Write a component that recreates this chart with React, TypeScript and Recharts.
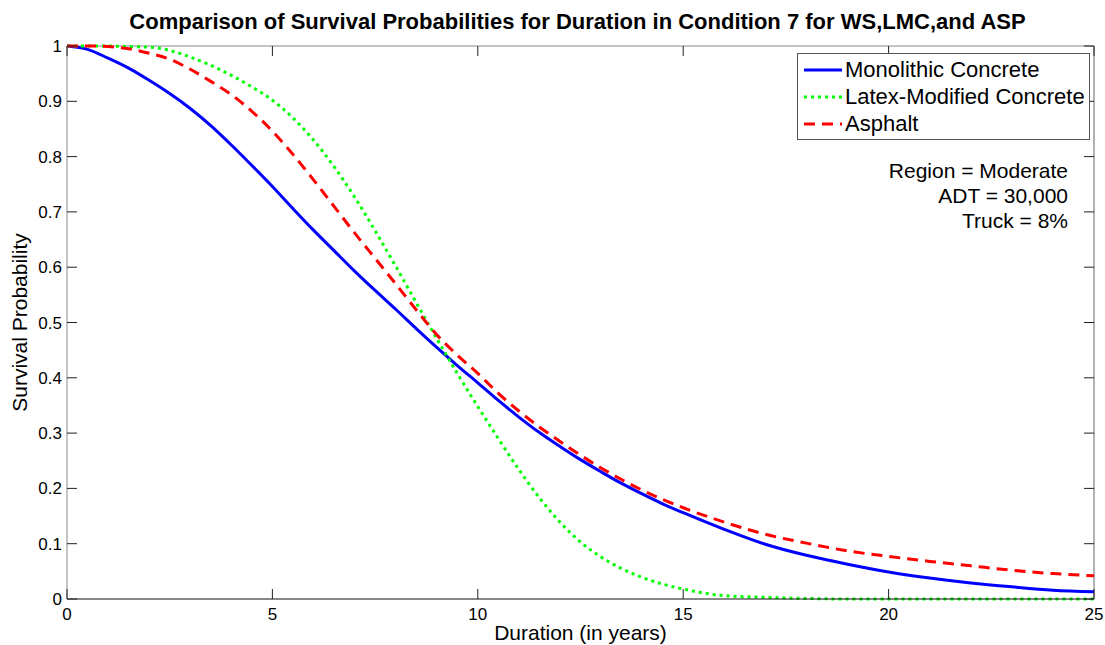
import { LineChart, Line, XAxis, YAxis, ReferenceLine } from 'recharts'

// Duration in years (half-year steps up to 15, yearly after)
const years = [
    0, 0.5, 1, 1.5, 2, 2.5, 3, 3.5, 4, 4.5, 5, 5.5, 6, 6.5, 7, 7.5, 8, 8.5, 9, 9.5,
    10, 10.5, 11, 11.5, 12, 12.5, 13, 13.5, 14, 14.5, 15, 16, 17, 18, 19, 20, 21, 22, 23, 24, 25,
]

const monolithic = [
    1.0, 0.994, 0.978, 0.96, 0.938, 0.914, 0.887, 0.856, 0.821, 0.784, 0.746, 0.706, 0.667, 0.63, 0.593, 0.558, 0.524, 0.489, 0.455, 0.422,
    0.391, 0.359, 0.329, 0.301, 0.276, 0.252, 0.23, 0.209, 0.19, 0.172, 0.156, 0.126, 0.099, 0.079, 0.063, 0.049, 0.038, 0.029, 0.022, 0.016, 0.013,
]

const latexModified = [
    1.0, 1.0, 1.0, 0.999, 0.998, 0.992, 0.98, 0.965, 0.947, 0.926, 0.902, 0.87, 0.83, 0.782, 0.727, 0.666, 0.602, 0.536, 0.471, 0.408,
    0.348, 0.29, 0.234, 0.183, 0.139, 0.103, 0.076, 0.055, 0.039, 0.027, 0.018, 0.006, 0.003, 0.001, 0, 0, 0, 0, 0, 0, 0,
]

const asphalt = [
    1.0, 1.0, 0.999, 0.995, 0.987, 0.976, 0.958, 0.936, 0.912, 0.882, 0.846, 0.804, 0.758, 0.71, 0.662, 0.616, 0.57, 0.523, 0.478, 0.441,
    0.408, 0.372, 0.34, 0.311, 0.285, 0.26, 0.237, 0.216, 0.197, 0.18, 0.165, 0.139, 0.117, 0.101, 0.087, 0.077, 0.068, 0.06, 0.052, 0.046, 0.042,
]

const xTicks = [0, 5, 10, 15, 20, 25]
const yTicks = [0, 0.1, 0.2, 0.3, 0.4, 0.5, 0.6, 0.7, 0.8, 0.9, 1]
const notes = ['Region = Moderate', 'ADT = 30,000', 'Truck = 8%']

const series = [
    { key: 'mono', name: 'Monolithic Concrete', color: '#0000ff', dash: undefined },
    { key: 'latex', name: 'Latex-Modified Concrete', color: '#00ff00', dash: '3 4' },
    { key: 'asp', name: 'Asphalt', color: '#ff0000', dash: '11 7' },
]

const FONT = '"Liberation Sans", Arial, sans-serif'
const W = 1105
const H = 645
const PLOT_RIGHT = 1094
const PLOT_LEFT = 67
const PLOT_TOP = 46
const PLOT_BOTTOM = 599
const TICK = 10

const data = years.map((t, i) => ({
    t,
    mono: monolithic[i],
    latex: latexModified[i],
    asp: asphalt[i],
}))

function XTick({ x, y, payload }: any) {
    return (
        <g>
            <line x1={x} y1={y} x2={x} y2={y - TICK} stroke="#222" />
            <line x1={x} y1={PLOT_TOP} x2={x} y2={PLOT_TOP + TICK} stroke="#222" />
            <text x={x} y={y + 21} textAnchor="middle" fontSize={17} fontFamily={FONT} fill="#000">
                {payload.value}
            </text>
        </g>
    )
}

function YTick({ x, y, payload }: any) {
    return (
        <g>
            <line x1={x} y1={y} x2={x + TICK} y2={y} stroke="#222" />
            <line x1={PLOT_RIGHT} y1={y} x2={PLOT_RIGHT - TICK} y2={y} stroke="#222" />
            <text x={x - 5} y={y + 6} textAnchor="end" fontSize={17} fontFamily={FONT} fill="#000">
                {payload.value}
            </text>
        </g>
    )
}

export default function App() {
    return (
        <div style={{ position: 'absolute', left: 0, top: 0, width: W, height: H, background: '#fff' }}>
            <div style={{
                position: 'absolute', left: 0, width: W, top: 9, paddingLeft: 50, boxSizing: 'border-box',
                textAlign: 'center', fontFamily: FONT, fontWeight: 'bold', fontSize: 22, color: '#000',
            }}>
                Comparison of Survival Probabilities for Duration in Condition 7 for WS,LMC,and ASP
            </div>
            <LineChart width={W} height={H} data={data}
                margin={{ top: PLOT_TOP, right: W - PLOT_RIGHT, bottom: 0, left: 0 }}>
                <XAxis dataKey="t" type="number" domain={[0, 25]} ticks={xTicks} interval={0}
                    height={H - PLOT_BOTTOM} tickSize={0} tickMargin={0} tick={<XTick />}
                    axisLine={{ stroke: '#111' }}
                    label={{ value: 'Duration (in years)', position: 'insideBottom', offset: 5, fontSize: 21, fontFamily: FONT, fill: '#000' }} />
                <YAxis type="number" domain={[0, 1]} ticks={yTicks} interval={0} width={PLOT_LEFT}
                    tickSize={0} tickMargin={0} tick={<YTick />} axisLine={{ stroke: '#888' }}
                    label={{ value: 'Survival Probability', angle: -90, position: 'insideLeft', offset: 20,
                        fontSize: 21, fontFamily: FONT, fill: '#000', style: { textAnchor: 'middle' } }} />
                <ReferenceLine y={1} stroke="#888" />
                <ReferenceLine x={25} stroke="#666" />
                {series.map(s => (
                    <Line key={s.key} type="monotone" dataKey={s.key} name={s.name} stroke={s.color}
                        strokeWidth={3} strokeDasharray={s.dash} dot={false} isAnimationActive={false} />
                ))}
            </LineChart>
            {/* legend box */}
            <div style={{
                position: 'absolute', left: 797, top: 53, width: 293, height: 87, boxSizing: 'border-box',
                border: '1px solid #555', background: '#fff', padding: '2px 0 0 6px',
                fontFamily: FONT, fontSize: 22, lineHeight: '27px', color: '#000',
            }}>
                {series.map(s => (
                    <div key={s.key} style={{ display: 'flex', alignItems: 'center', whiteSpace: 'nowrap' }}>
                        <svg width={38} height={10} style={{ marginRight: 3 }}>
                            <line x1={0} y1={5} x2={38} y2={5} stroke={s.color} strokeWidth={3} strokeDasharray={s.dash} />
                        </svg>
                        <span>{s.name}</span>
                    </div>
                ))}
            </div>
            <div style={{
                position: 'absolute', right: W - 1068, top: 158, textAlign: 'right',
                fontFamily: FONT, fontSize: 21, lineHeight: '25px', color: '#000',
            }}>
                {notes.map(n => <div key={n}>{n}</div>)}
            </div>
        </div>
    )
}
